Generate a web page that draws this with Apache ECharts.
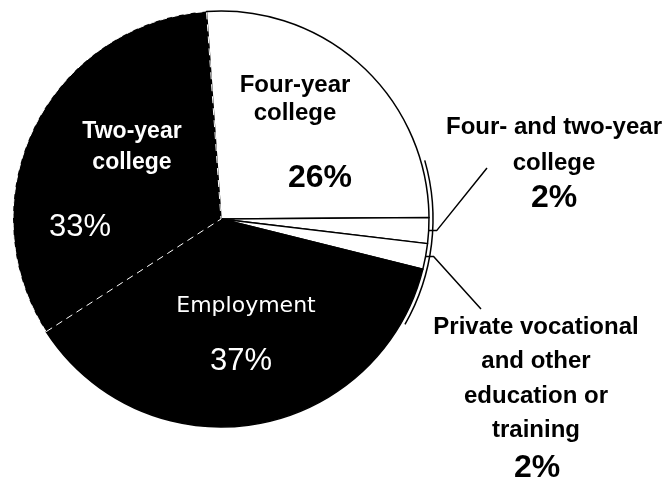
<!DOCTYPE html>
<html>
<head>
<meta charset="utf-8">
<script src="https://cdn.jsdelivr.net/npm/echarts@6/dist/echarts.min.js"></script>
<style>
html,body{margin:0;padding:0;background:#fff;}
#chart{width:669px;height:483px;}
</style>
</head>
<body>
<div id="chart"></div>
<script>
// ---- data ----
const categories = ['Four-year\ncollege', 'Four- and two-year\ncollege', 'Private vocational\nand other\neducation or\ntraining', 'Employment', 'Two-year\ncollege'];
const values = [26, 2, 2, 37, 33];
const pctLabels = ['26%', '2%', '2%', '37%', '33%'];

// ---- styles / layout ----
const fills = ['#ffffff', '#ffffff', '#ffffff', '#000000', '#000000'];
const nameColors = ['#000', '#000', '#000', '#fff', '#fff'];
const pctColors = ['#000', '#000', '#000', '#fff', '#fff'];
const nameFonts = [
  {fontFamily: 'Liberation Sans, Arial', fontWeight: 'bold', fontSize: 24, lineHeight: 28},
  {fontFamily: 'Liberation Sans, Arial', fontWeight: 'bold', fontSize: 24, lineHeight: 36},
  {fontFamily: 'Liberation Sans, Arial', fontWeight: 'bold', fontSize: 24, lineHeight: 34.3},
  {fontFamily: 'DejaVu Sans', fontWeight: 'normal', fontSize: 22, lineHeight: 26},
  {fontFamily: 'Liberation Sans, Arial', fontWeight: 'bold', fontSize: 23, lineHeight: 31}
];
const pctFonts = [
  {fontWeight: 'bold', fontSize: 32},
  {fontWeight: 'bold', fontSize: 32},
  {fontWeight: 'bold', fontSize: 32},
  {fontWeight: 'normal', fontSize: 31},
  {fontWeight: 'normal', fontSize: 31}
];
const namePos = [[295, 99], [554, 145], [536, 379], [246, 306], [132, 147]];
const pctPos = [[320, 178], [554, 198], [537, 468], [241, 361], [80, 227]];
const leaderEnds = {1: [487, 168], 2: [481, 309]};
const CX = 221, CY = 219, R = 208;

const chart = echarts.init(document.getElementById('chart'), null, {renderer: 'canvas'});

const nameData = categories.map((c, i) => ({
  name: c,
  value: values[i],
  itemStyle: i === 4
    ? {color: fills[i], borderColor: '#ffffff', borderWidth: 1, borderType: [7, 5]}
    : {color: fills[i], borderColor: '#000', borderWidth: 1.5},
  label: Object.assign({
    show: true,
    position: (i === 1 || i === 2) ? 'outside' : 'inside',
    color: nameColors[i],
    formatter: '{b}',
    align: 'center',
    overflow: 'none',
    width: 260
  }, nameFonts[i]),
  labelLine: {show: (i === 1 || i === 2), lineStyle: {color: '#000', width: 1.5}}
}));

const pctData = categories.map((c, i) => ({
  name: c,
  value: values[i],
  itemStyle: {color: 'rgba(0,0,0,0)', borderWidth: 0},
  label: Object.assign({
    show: true,
    position: 'inside',
    color: pctColors[i],
    fontFamily: 'Liberation Sans, Arial',
    formatter: pctLabels[i],
    overflow: 'none'
  }, pctFonts[i])
}));

chart.setOption({
  animation: false,
  backgroundColor: '#fff',
  graphic: [{
    type: 'arc',
    silent: true,
    shape: {cx: CX, cy: CY, r: R + 4, startAngle: -0.28, endAngle: 0.52},
    style: {stroke: '#000', fill: 'none', lineWidth: 1.5}
  }],
  series: [
    {
      type: 'pie',
      center: [CX, CY],
      radius: R,
      startAngle: 94,
      clockwise: true,
      emphasis: {disabled: true},
      data: nameData,
      labelLayout: function (p) {
        const i = p.dataIndex;
        const out = {x: namePos[i][0], y: namePos[i][1], align: 'center', verticalAlign: 'middle'};
        if (leaderEnds[i] && p.labelLinePoints) {
          const a = p.labelLinePoints[0];
          out.labelLinePoints = [[a[0], a[1]], [a[0] + 8, a[1]], leaderEnds[i]];
        }
        return out;
      }
    },
    {
      type: 'pie',
      center: [CX, CY],
      radius: R,
      startAngle: 94,
      clockwise: true,
      silent: true,
      emphasis: {disabled: true},
      data: pctData,
      labelLine: {show: false},
      labelLayout: function (p) {
        const i = p.dataIndex;
        return {x: pctPos[i][0], y: pctPos[i][1], align: 'center', verticalAlign: 'middle'};
      }
    }
  ]
});
</script>
</body>
</html>
